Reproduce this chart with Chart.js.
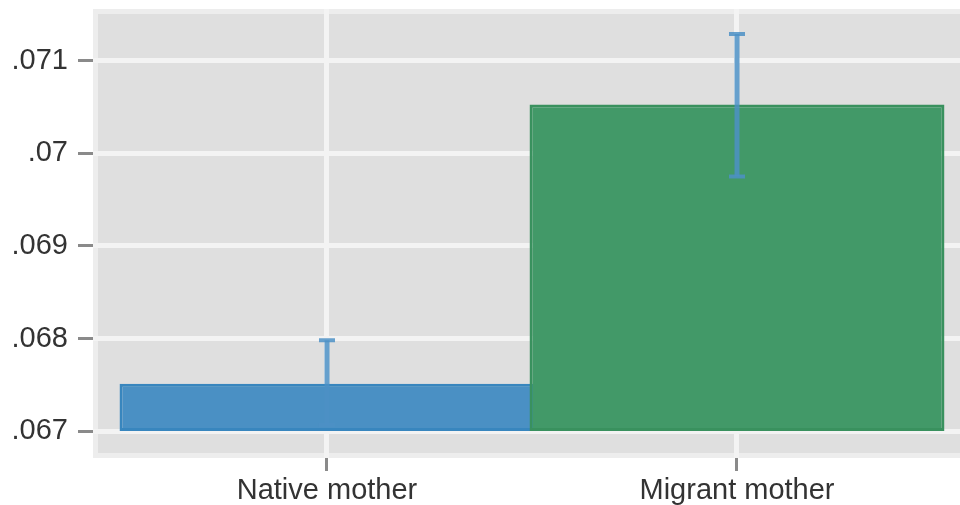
<!DOCTYPE html>
<html>
<head>
<meta charset="utf-8">
<script src="https://cdn.jsdelivr.net/npm/chart.js@4"></script>
<style>
  html, body { margin: 0; padding: 0; background: #fff; }
  #wrap { width: 960px; height: 505px; }
</style>
</head>
<body>
<div id="wrap"><canvas id="chart" width="960" height="505"></canvas></div>
<script>
// data
const categories = ['Native mother', 'Migrant mother'];
const means      = [0.06751, 0.07053];
const errLow     = [0.067065, 0.06975];
const errHigh    = [0.06798, 0.07129];
const barBase    = 0.067;
const yTicks       = [0.067, 0.068, 0.069, 0.070, 0.071];
const yTickLabels  = ['.067', '.068', '.069', '.07', '.071'];

const fillColors   = ['#4a90c4', '#429968'];
const borderColors = ['#3886be', '#39915e'];

// grey plot panel with a pale frame
const panelBg = {
  id: 'panelBg',
  beforeDraw(chart) {
    const { ctx, chartArea: a } = chart;
    ctx.save();
    ctx.fillStyle = '#ededed';
    ctx.fillRect(a.left, a.top, a.right - a.left, a.bottom - a.top);
    ctx.fillStyle = '#dfdfdf';
    ctx.fillRect(a.left + 5, a.top + 5, a.right - a.left - 5, a.bottom - a.top - 10);
    ctx.restore();
  }
};

// error bars with small caps
const errorBars = {
  id: 'errorBars',
  afterDatasetsDraw(chart) {
    const { ctx, scales: { x, y } } = chart;
    ctx.save();
    ctx.strokeStyle = 'rgba(76,145,198,0.85)';
    ctx.lineCap = 'butt';
    categories.forEach((c, i) => {
      const px = x.getPixelForValue(i);
      const lo = y.getPixelForValue(errLow[i]);
      const hi = y.getPixelForValue(errHigh[i]);
      ctx.lineWidth = 5;
      ctx.beginPath();
      ctx.moveTo(px, lo);
      ctx.lineTo(px, hi);
      ctx.stroke();
      ctx.lineWidth = 4;
      ctx.beginPath();
      ctx.moveTo(px - 8, hi); ctx.lineTo(px + 8, hi);
      ctx.moveTo(px - 8, lo); ctx.lineTo(px + 8, lo);
      ctx.stroke();
    });
    ctx.restore();
  }
};

const tickFont = { family: '"Liberation Sans", Arial, sans-serif', size: 29 };

new Chart(document.getElementById('chart').getContext('2d'), {
  type: 'bar',
  data: {
    datasets: [{
      data: categories.map((c, i) => ({ x: i, y: [barBase, means[i]] })),
      backgroundColor: fillColors,
      borderColor: borderColors,
      borderWidth: 3,
      borderSkipped: false,
      barPercentage: 1.012,
      categoryPercentage: 1
    }]
  },
  options: {
    responsive: false,
    animation: false,
    devicePixelRatio: 1,
    layout: { padding: { top: 9, right: 0, left: 0, bottom: 0 } },
    plugins: { legend: { display: false }, tooltip: { enabled: false } },
    scales: {
      x: {
        type: 'linear',
        offset: false,
        min: -0.5707,
        max: 1.5439,
        afterBuildTicks: s => { s.ticks = categories.map((c, i) => ({ value: i })); },
        afterFit: s => { s.height = 47; s.paddingLeft = 0; s.paddingRight = 0; },
        border: { display: false },
        grid: { offset: false, color: '#f3f3f3', lineWidth: 5, tickColor: '#8a8a8a', tickWidth: 3, tickLength: 13 },
        ticks: { font: tickFont, color: '#333', padding: 3, maxRotation: 0,
                 callback: v => categories[v] }
      },
      y: {
        min: 0.0667089,
        max: 0.0715606,
        afterBuildTicks: s => { s.ticks = yTicks.map(v => ({ value: v })); },
        afterFit: s => { s.width = 93; s.paddingTop = 0; s.paddingBottom = 0; },
        border: { display: false },
        grid: { color: '#f3f3f3', lineWidth: 5, tickColor: '#8a8a8a', tickWidth: 3, tickLength: 15 },
        ticks: { font: tickFont, color: '#333', padding: 10,
                 callback: (v, i) => yTickLabels[i] }
      }
    }
  },
  plugins: [panelBg, errorBars]
});
</script>
</body>
</html>
